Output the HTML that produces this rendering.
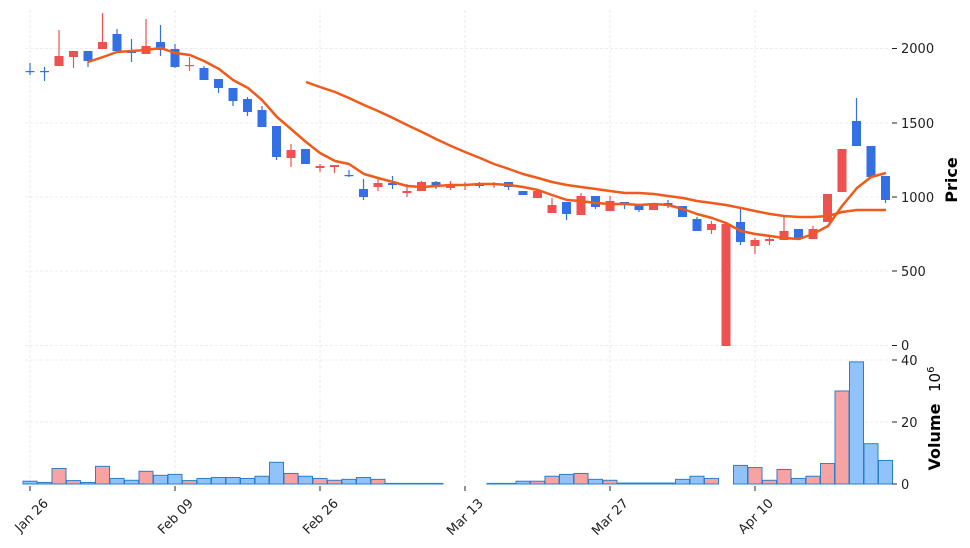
<!DOCTYPE html>
<html><head><meta charset="utf-8"><style>
body{margin:0;background:#fff;width:970px;height:548px;overflow:hidden}
svg{display:block;font-family:"DejaVu Sans","Liberation Sans",sans-serif}
</style></head><body>
<svg id="s" width="970" height="548" viewBox="0 0 970 548" xmlns="http://www.w3.org/2000/svg">
<g stroke="#e6e6ef" stroke-width="0.8" stroke-dasharray="3,2" fill="none">
<line x1="25" y1="48.5" x2="890" y2="48.5"/><line x1="25" y1="123" x2="890" y2="123"/>
<line x1="25" y1="197" x2="890" y2="197"/><line x1="25" y1="271" x2="890" y2="271"/>
<line x1="25" y1="345.5" x2="890" y2="345.5"/>
<line x1="25" y1="360" x2="890" y2="360"/><line x1="25" y1="422" x2="890" y2="422"/>
<line x1="30" y1="10" x2="30" y2="484"/><line x1="175" y1="10" x2="175" y2="484"/>
<line x1="320" y1="10" x2="320" y2="484"/><line x1="465" y1="10" x2="465" y2="484"/>
<line x1="610" y1="10" x2="610" y2="484"/><line x1="755" y1="10" x2="755" y2="484"/>
</g>
<g id="vol"></g>
<g id="cdl"></g>
<polyline fill="none" stroke="#f05a1a" stroke-width="2.5" stroke-linejoin="round" points="88,62 103,57 117,52 132,51 146,50 161,48 175,53 190,55 204,61 219,69 233,80 248,88 262,100 277,117 291,129 306,142 320,153 335,161 349,164 364,174 378,178 393,182 407,186 422,187 436,186 451,185 465,185 480,184 494,184 509,185 523,187 538,190 552,195 567,200 581,201 596,203 610,204 625,204 639,205 654,204 668,205 683,209 697,214 712,218 726,223 741,231 755,234 770,236 784,238 799,239 813,234 828,226 842,206 857,188 871,177 886,173"/>
<polyline fill="none" stroke="#f05a1a" stroke-width="2.5" stroke-linejoin="round" points="306,82 320,87 335,92 349,98 364,105 378,111 393,118 407,125 422,132 436,139 451,146 465,152 480,158 494,164 509,169 523,174 538,178 552,182 567,185 581,187 596,189 610,191 625,193 639,193 654,194 668,196 683,198 697,201 712,203 726,205 741,208 755,211 770,214 784,216 799,217 813,217 828,216 842,212 857,210 871,210 886,210"/>
<g font-size="13" fill="#222">
<text x="901" y="53">2000</text><text x="901" y="128">1500</text><text x="901" y="202">1000</text>
<text x="901" y="276">500</text><text x="901" y="350">0</text>
<text x="901" y="365">40</text><text x="901" y="427">20</text><text x="901" y="489">0</text>
</g>
<g stroke="#222" stroke-width="1">
<line x1="892" y1="48.5" x2="897" y2="48.5"/><line x1="892" y1="123" x2="897" y2="123"/><line x1="892" y1="197" x2="897" y2="197"/><line x1="892" y1="271" x2="897" y2="271"/><line x1="892" y1="345.5" x2="897" y2="345.5"/>
<line x1="892" y1="360" x2="897" y2="360"/><line x1="892" y1="422" x2="897" y2="422"/><line x1="892" y1="484" x2="897" y2="484"/>
<line x1="30" y1="486" x2="30" y2="491"/><line x1="175" y1="486" x2="175" y2="491"/><line x1="320" y1="486" x2="320" y2="491"/><line x1="465" y1="486" x2="465" y2="491"/><line x1="610" y1="486" x2="610" y2="491"/><line x1="755" y1="486" x2="755" y2="491"/>
</g>
<text transform="translate(957,180) rotate(-90)" text-anchor="middle" font-size="16" font-weight="bold">Price</text>
<text transform="translate(940,437) rotate(-90)" text-anchor="middle" font-size="16" font-weight="bold">Volume</text>
<text transform="translate(940,392) rotate(-90)" font-size="15">10<tspan dy="-6" font-size="10">6</tspan></text>
<g font-size="13" fill="#222" text-anchor="end">
<text transform="translate(49,504) rotate(-45)">Jan 26</text>
<text transform="translate(194,504) rotate(-45)">Feb 09</text>
<text transform="translate(339,504) rotate(-45)">Feb 26</text>
<text transform="translate(484,504) rotate(-45)">Mar 13</text>
<text transform="translate(629,504) rotate(-45)">Mar 27</text>
<text transform="translate(774,504) rotate(-45)">Apr 10</text>
</g>
</svg>
<script>
var C=[["b",71,72,63,75],["b",71,72,67,81],["r",56,66,30,66],["r",51,57,51,68],["b",51,61,51,67],["r",42,49,13,49],["b",34,51,29,51],["b",51,53,39,62],["r",46,54,19,54],["b",42,50,25,56],
["b",49,67,44,68],["r",65,66,57,71],["b",68,80,66,80],["b",79,88,79,93],["b",88,101,88,106],["b",99,112,97,116],["b",110,127,106,127],["b",126,157,126,160],["r",150,158,144,167],["b",149,164,149,164],
["r",166,168,164,172],["r",165,167,165,173],["b",175,176,170,177],["b",189,197,179,200],["r",183,187,177,191],["b",183,185,176,189],["r",191,193,184,197],["r",182,191,181,191],["b",182,186,181,189],["r",184,188,181,190],
["r",184,185,182,190],["b",183,186,182,188],["r",183,185,182,188],["b",182,187,182,190],["b",191,195,191,195],["r",191,198,191,198],["r",205,213,198,213],["b",202,214,202,220],["r",196,215,193,215],["b",196,207,196,209],
["r",201,211,196,211],["b",202,205,202,209],["b",205,210,205,212],["r",203,210,203,210],["b",203,205,200,208],["b",206,217,206,217],["b",219,231,217,231],["r",224,230,221,234],["r",224,346,224,346],["b",222,242,207,245],
["r",240,246,238,254],["r",239,241,235,245],["r",231,240,217,240],["b",229,239,229,239],["r",229,239,226,239],["r",194,222,194,222],["r",149,192,149,192],["b",121,146,98,146],["b",146,177,146,177],["b",176,200,176,203]];
var V=[0.9,0.5,5,1.1,0.5,5.7,1.8,1.2,4.1,2.8,3.1,1.1,1.8,2.1,2.1,1.8,2.5,7,3.4,2.5,1.8,1.2,1.5,2.1,1.5,0.2,0.2,0.2,0.2,0,0,0,0.2,0.2,0.9,0.9,2.5,3.1,3.4,1.5,1.2,0.3,0.3,0.3,0.3,1.5,2.5,1.8,0,6,5.3,1.2,4.7,1.8,2.5,6.6,30,39.4,13,7.6];
var cg="",vg="";
for(var i=0;i<60;i++){var x=30+i*14.5,c=C[i],col=c[0]=="b"?"#3370e6":"#ef5050";
cg+='<line x1="'+x+'" y1="'+c[3]+'" x2="'+x+'" y2="'+c[4]+'" stroke="'+col+'" stroke-width="1.2"/>';
var h=Math.max(c[2]-c[1],1.2);cg+='<rect x="'+(x-4.5)+'" y="'+c[1]+'" width="9" height="'+h+'" fill="'+col+'"/>';
if(V[i]>0){var vh=V[i]*3.1;vg+='<rect x="'+(x-7)+'" y="'+(484-vh)+'" width="14" height="'+vh+'" fill="'+(c[0]=="b"?"#90c3f9":"#f8a3a3")+'" stroke="#2a7fc8" stroke-width="1"/>';}}
document.getElementById("cdl").innerHTML=cg;document.getElementById("vol").innerHTML=vg;
</script>
</body></html>
